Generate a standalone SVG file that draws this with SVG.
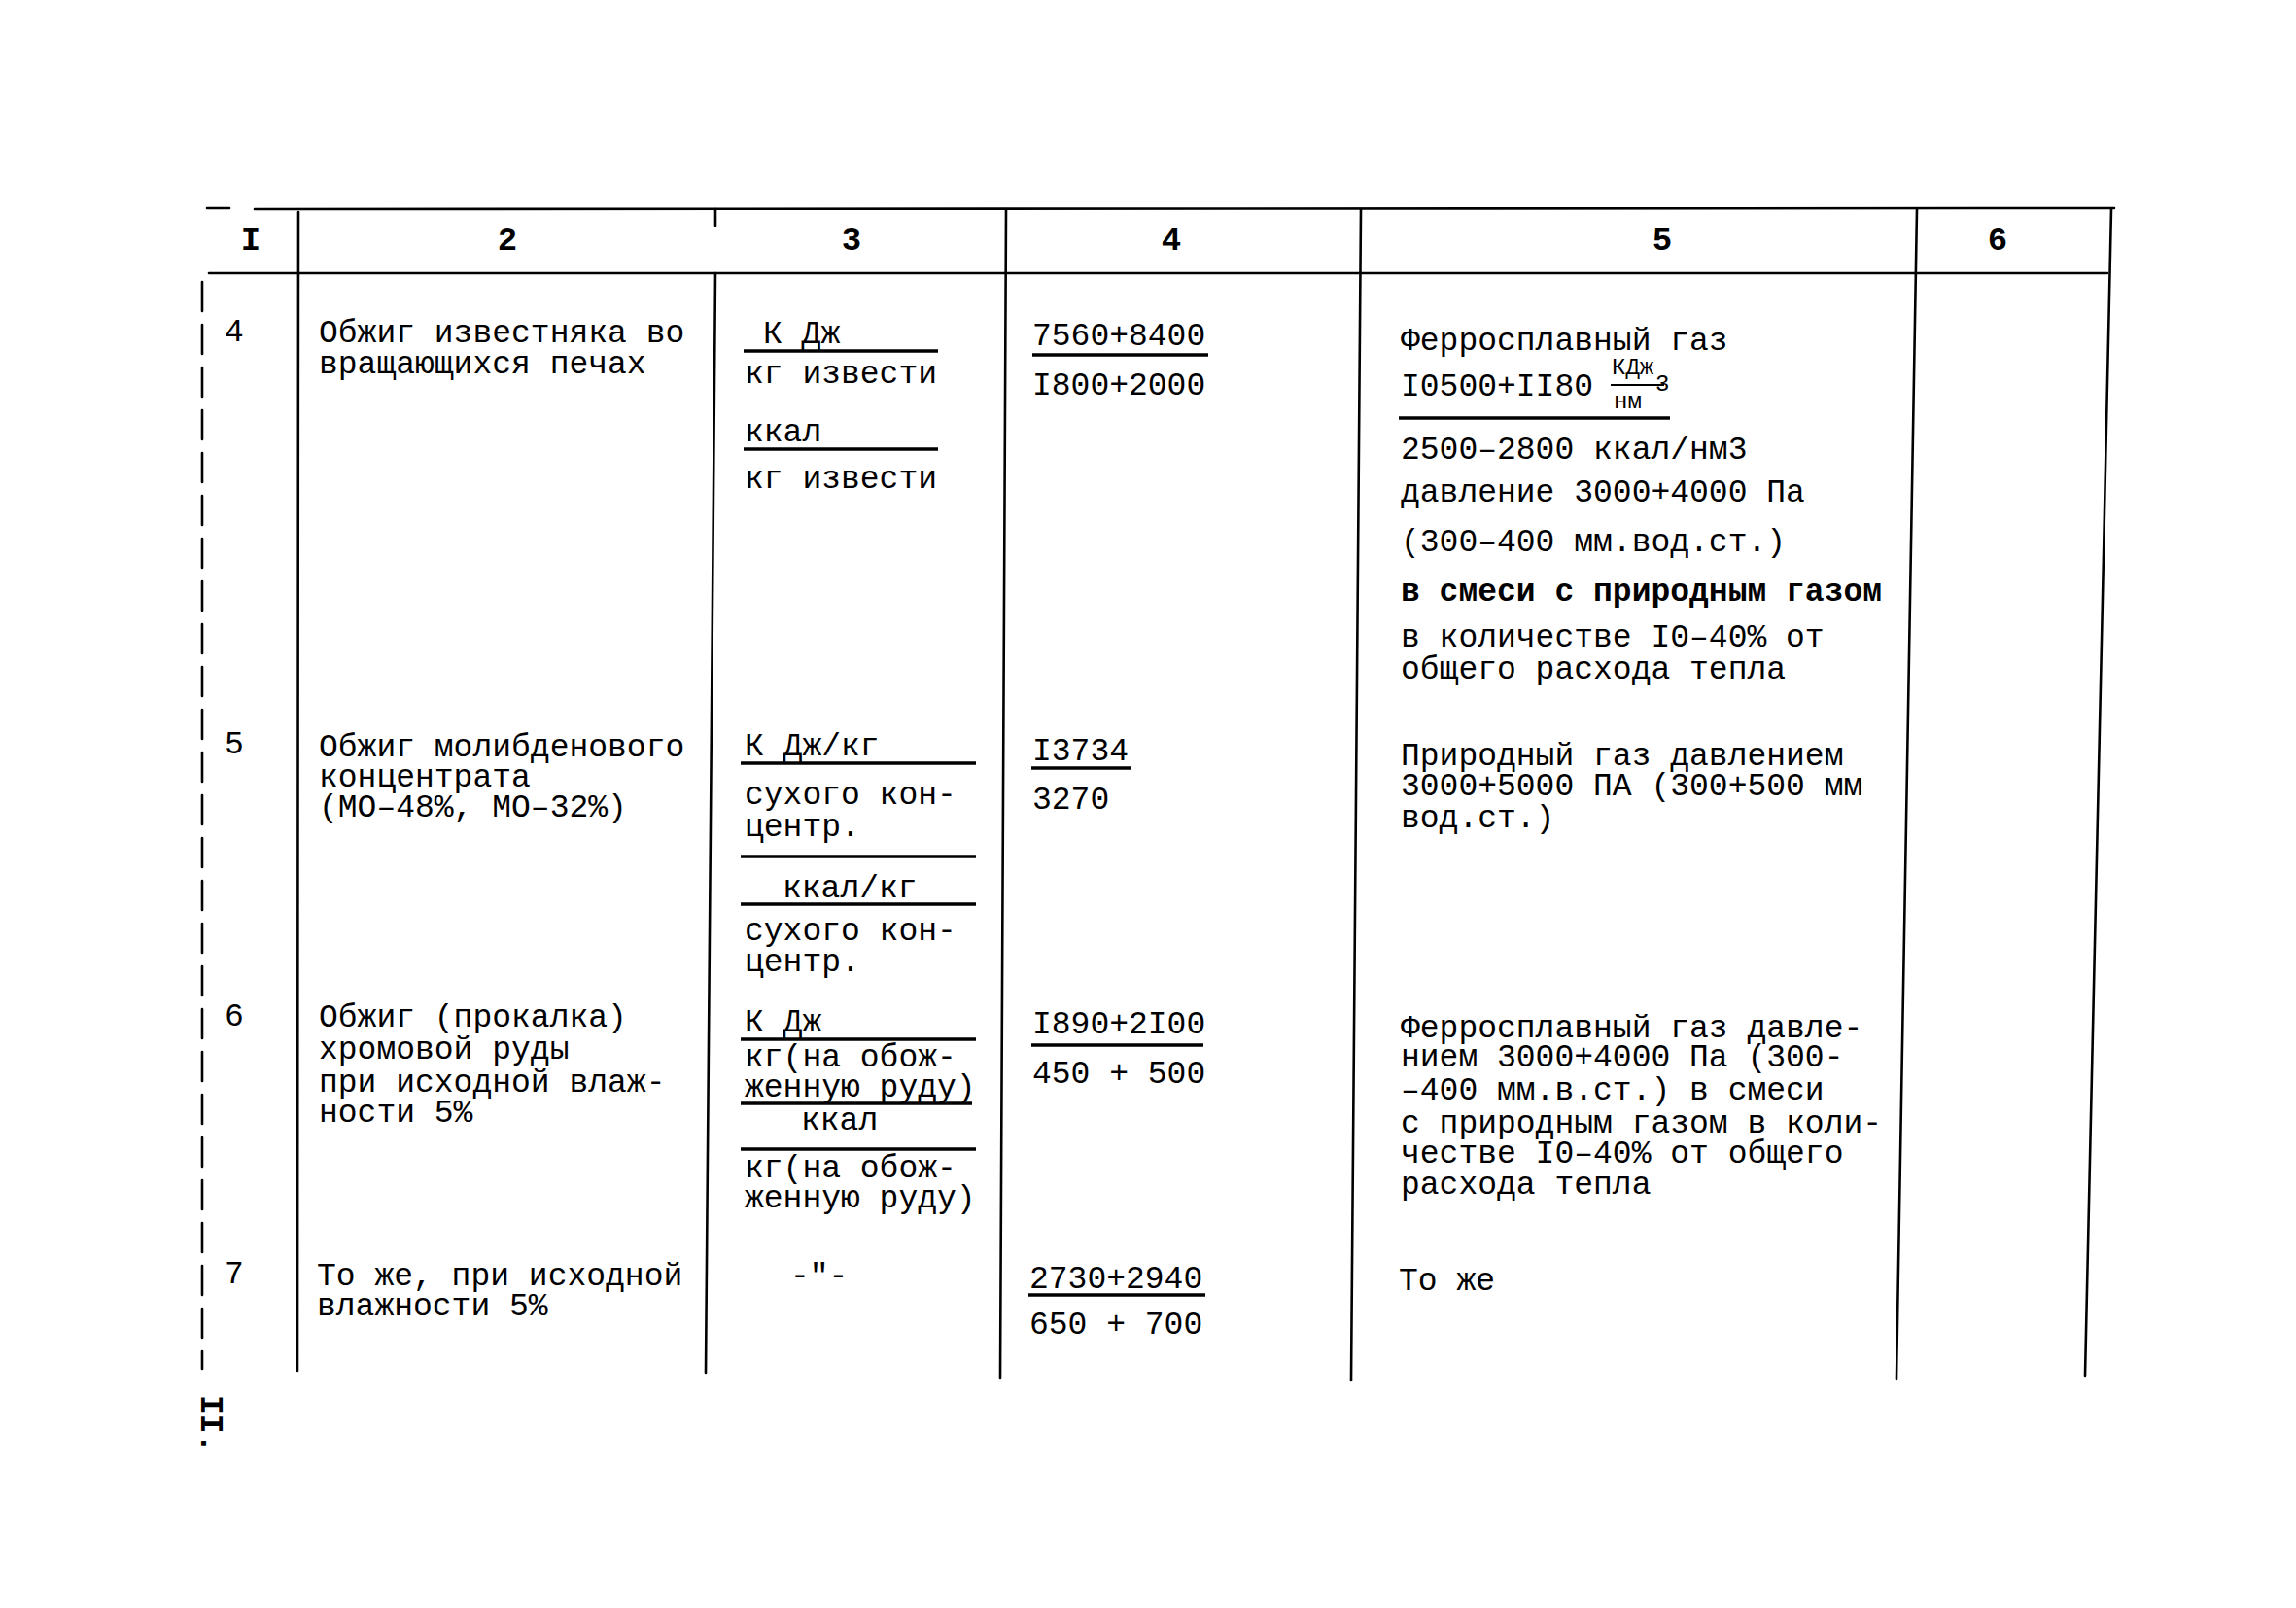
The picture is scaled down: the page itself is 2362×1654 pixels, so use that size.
<svg xmlns="http://www.w3.org/2000/svg" width="2362" height="1654" viewBox="0 0 2362 1654">
<style>
.t{font-family:"Liberation Mono","DejaVu Sans Mono",monospace;font-size:33px;fill:#000}
.h{font-family:"Liberation Mono","DejaVu Sans Mono",monospace;font-size:34px;fill:#000;text-anchor:middle;font-weight:bold}
.s{font-family:"Liberation Mono","DejaVu Sans Mono",monospace;font-size:24px;fill:#000}
.b{font-weight:bold}
.g{stroke:#000;stroke-width:2.6;fill:none;stroke-linecap:round}
.f{stroke:#000;stroke-width:3.6;fill:none}
.fs{stroke:#000;stroke-width:2;fill:none}
</style>
<rect width="2362" height="1654" fill="#fff"/>
<g id="connectors">
  <line class="g" x1="213" y1="214" x2="236" y2="214"/>
  <line class="g" x1="262" y1="215" x2="2175" y2="214"/>
  <line class="g" x1="215" y1="281" x2="2168" y2="281"/>
  <line class="g" x1="208" y1="290" x2="208" y2="1408" stroke-dasharray="30 14" stroke-width="2"/>
  <line class="g" x1="307" y1="218" x2="306" y2="1410"/>
  <line class="g" x1="736" y1="215" x2="736" y2="232"/>
  <line class="g" x1="736" y1="281" x2="726" y2="1412"/>
  <line class="g" x1="1035" y1="215" x2="1029" y2="1417"/>
  <line class="g" x1="1400" y1="215" x2="1390" y2="1420"/>
  <line class="g" x1="1972" y1="215" x2="1951" y2="1418"/>
  <line class="g" x1="2172" y1="215" x2="2145" y2="1415"/>
</g>
<g id="header">
  <text class="h" x="258" y="257">I</text>
  <text class="h" x="522" y="257">2</text>
  <text class="h" x="876" y="257">3</text>
  <text class="h" x="1205" y="257">4</text>
  <text class="h" x="1710" y="257">5</text>
  <text class="h" x="2055" y="257">6</text>
</g>
<g id="row4">
  <text class="t" x="231" y="351">4</text>
  <text class="t" y="352"><tspan x="328">Обжиг известняка во</tspan><tspan x="328" y="384">вращающихся печах</tspan></text>
  <text class="t" x="785" y="353">К Дж</text>
  <line class="f" x1="765" y1="361" x2="965" y2="361"/>
  <text class="t" x="766" y="394">кг извести</text>
  <text class="t" x="766" y="454">ккал</text>
  <line class="f" x1="765" y1="462" x2="965" y2="462"/>
  <text class="t" x="766" y="502">кг извести</text>
  <text class="t" x="1062" y="355">7560+8400</text>
  <line class="f" x1="1062" y1="365" x2="1243" y2="365"/>
  <text class="t" x="1062" y="406">I800+2000</text>
  <text class="t" x="1441" y="360">Ферросплавный газ</text>
  <text class="t" x="1441" y="407">I0500+II80</text>
  <text class="s" x="1658" y="385">КДж</text>
  <line class="fs" x1="1657" y1="396" x2="1712" y2="396"/>
  <text class="s" x="1660" y="420">нм</text>
  <text class="s" x="1703" y="402">3</text>
  <line class="f" x1="1439" y1="430" x2="1718" y2="430"/>
  <text class="t" x="1441" y="472">2500–2800 ккал/нм3</text>
  <text class="t" x="1441" y="516">давление 3000+4000 Па</text>
  <text class="t" x="1441" y="567">(300–400 мм.вод.ст.)</text>
  <text class="t b" x="1441" y="618">в смеси с природным газом</text>
  <text class="t" y="665"><tspan x="1441">в количестве I0–40% от</tspan><tspan x="1441" y="698">общего расхода тепла</tspan></text>
</g>
<g id="row5">
  <text class="t" x="231" y="775">5</text>
  <text class="t" y="778"><tspan x="328">Обжиг молибденового</tspan><tspan x="328" y="809">концентрата</tspan><tspan x="328" y="840">(МО–48%, МО–32%)</tspan></text>
  <text class="t" x="766" y="777">К Дж/кг</text>
  <line class="f" x1="762" y1="785" x2="1004" y2="785"/>
  <text class="t" y="827"><tspan x="766">сухого кон-</tspan><tspan x="766" y="860">центр.</tspan></text>
  <line class="f" x1="762" y1="881" x2="1004" y2="881"/>
  <text class="t" x="805" y="923">ккал/кг</text>
  <line class="f" x1="762" y1="930" x2="1004" y2="930"/>
  <text class="t" y="967"><tspan x="766">сухого кон-</tspan><tspan x="766" y="999">центр.</tspan></text>
  <text class="t" x="1062" y="782">I3734</text>
  <line class="f" x1="1061" y1="790" x2="1163" y2="790"/>
  <text class="t" x="1062" y="832">3270</text>
  <text class="t" y="787"><tspan x="1441">Природный газ давлением</tspan><tspan x="1441" y="818">3000+5000 ПА (300+500 мм</tspan><tspan x="1441" y="851">вод.ст.)</tspan></text>
</g>
<g id="row6">
  <text class="t" x="231" y="1055">6</text>
  <text class="t" y="1056"><tspan x="328">Обжиг (прокалка)</tspan><tspan x="328" y="1089">хромовой руды</tspan><tspan x="328" y="1123">при исходной влаж-</tspan><tspan x="328" y="1154">ности 5%</tspan></text>
  <text class="t" x="766" y="1061">К Дж</text>
  <line class="f" x1="762" y1="1069" x2="1004" y2="1069"/>
  <text class="t" y="1097"><tspan x="766">кг(на обож-</tspan><tspan x="766" y="1128">женную руду)</tspan></text>
  <line class="f" x1="762" y1="1135" x2="1000" y2="1135"/>
  <text class="t" x="824" y="1162">ккал</text>
  <line class="f" x1="762" y1="1182" x2="1004" y2="1182"/>
  <text class="t" y="1211"><tspan x="766">кг(на обож-</tspan><tspan x="766" y="1242">женную руду)</tspan></text>
  <text class="t" x="1062" y="1063">I890+2I00</text>
  <line class="f" x1="1061" y1="1075" x2="1238" y2="1075"/>
  <text class="t" x="1062" y="1114">450 + 500</text>
  <text class="t" y="1067"><tspan x="1441">Ферросплавный газ давле-</tspan><tspan x="1441" y="1097">нием 3000+4000 Па (300-</tspan><tspan x="1441" y="1131">–400 мм.в.ст.) в смеси</tspan><tspan x="1441" y="1165">с природным газом в коли-</tspan><tspan x="1441" y="1196">честве I0–40% от общего</tspan><tspan x="1441" y="1228">расхода тепла</tspan></text>
</g>
<g id="row7">
  <text class="t" x="231" y="1320">7</text>
  <text class="t" y="1322"><tspan x="326">То же, при исходной</tspan><tspan x="326" y="1353">влажности 5%</tspan></text>
  <text class="t" x="813" y="1322">-"-</text>
  <text class="t" x="1059" y="1325">2730+2940</text>
  <line class="f" x1="1058" y1="1332" x2="1240" y2="1332"/>
  <text class="t" x="1059" y="1372">650 + 700</text>
  <text class="t" x="1439" y="1327">То же</text>
</g>
<g id="page-number">
  <text class="t b" x="0" y="0" font-size="40" transform="translate(207,1435) rotate(90)">II.</text>
</g>
</svg>
